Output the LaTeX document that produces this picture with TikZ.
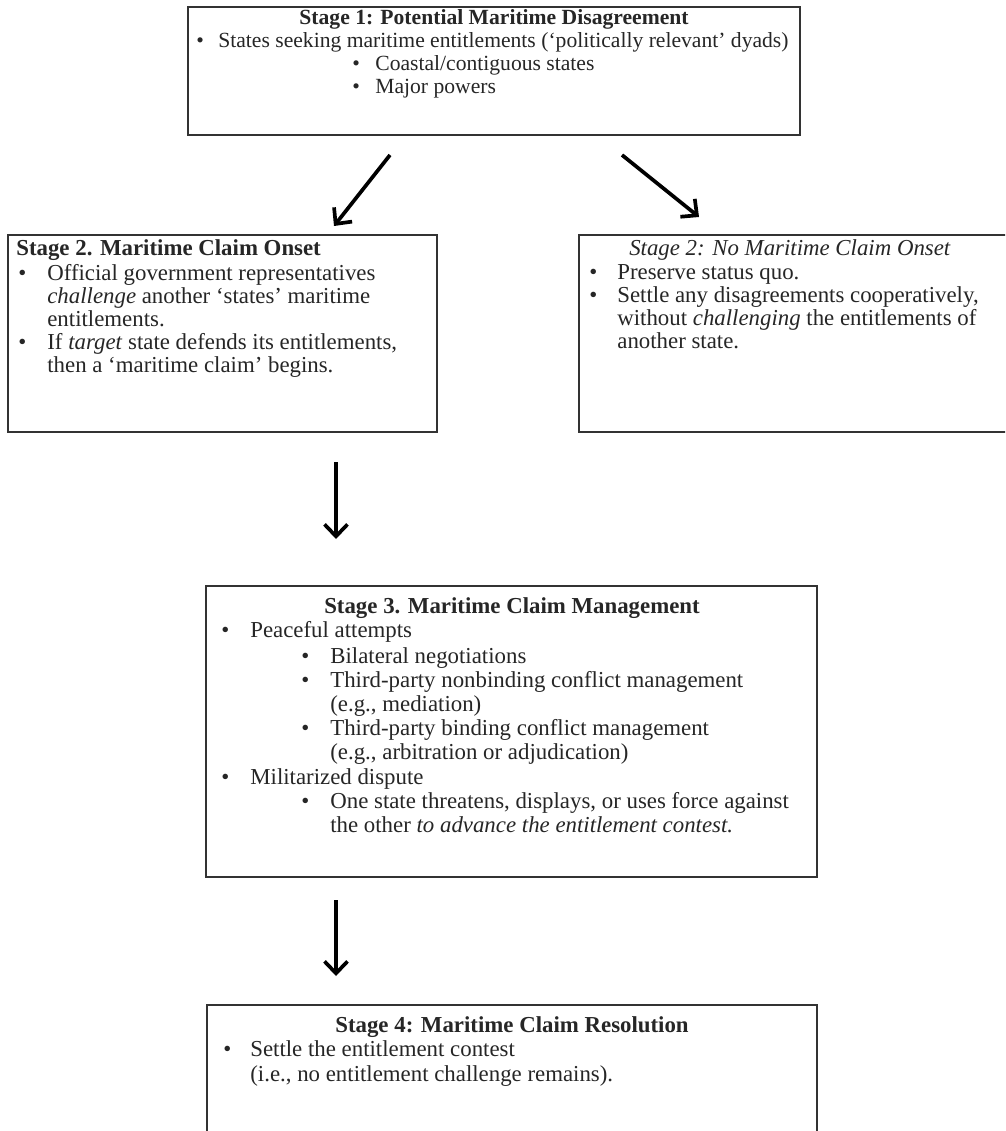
\documentclass[tikz,border=0pt]{standalone}
\usepackage{fontspec}
\setmainfont{Liberation Serif}
\usetikzlibrary{arrows.meta}

\tikzset{
  stagebox/.style={draw=black!80, line width=1.2pt, rectangle, inner sep=0pt},
  txt/.style={anchor=base west, inner sep=0pt, text=black!85, font=\fontsize{13}{15}\selectfont},
  ttl/.style={txt, anchor=base, font=\fontsize{13}{15}\selectfont\bfseries},
  flow/.style={line width=2.1pt, -{Straight Barb[length=2.4mm,width=4.6mm]}}
}

\begin{document}
\begin{tikzpicture}[x=0.02cm,y=-0.02cm]
            \useasboundingbox (0,0) rectangle (1005,1131);
            \clip (0,0) rectangle (1005,1131);
            \fill[white] (0,0) rectangle (1005,1131);

            \node[stagebox, minimum width=12.24cm, minimum height=2.56cm] (stage1) at (494,71) {};
            \node[ttl, font=\fontsize{12.3}{15}\selectfont\bfseries] (stage1t) at (494,25) {Stage 1: Potential Maritime Disagreement};
            \node[txt, font=\fontsize{12.3}{15}\selectfont] (b11) at (196,48) {\textbullet};
            \node[txt, font=\fontsize{12.3}{15}\selectfont] (l11) at (218,48) {States seeking maritime entitlements (‘politically relevant’ dyads)};
            \node[txt, font=\fontsize{12.3}{15}\selectfont] (b12) at (352,71) {\textbullet};
            \node[txt, font=\fontsize{12.3}{15}\selectfont] (l12) at (375,71) {Coastal/contiguous states};
            \node[txt, font=\fontsize{12.3}{15}\selectfont] (b13) at (352,94) {\textbullet};
            \node[txt, font=\fontsize{12.3}{15}\selectfont] (l13) at (375,94) {Major powers};

            \node[stagebox, minimum width=8.58cm, minimum height=3.94cm] (claim) at (222.5,333.5) {};
            \node[txt, font=\fontsize{13}{15}\selectfont\bfseries] (claimt) at (16,256) {Stage 2. Maritime Claim Onset};
            \node[txt] (b21) at (18,281) {\textbullet};
            \node[txt] (l21) at (47,281) {Official government representatives};
            \node[txt] (l22) at (47,304) {\textit{challenge} another ‘states’ maritime};
            \node[txt] (l23) at (47,327) {entitlements.};
            \node[txt] (b24) at (18,350) {\textbullet};
            \node[txt] (l24) at (47,350) {If \textit{target} state defends its entitlements,};
            \node[txt] (l25) at (47,373) {then a ‘maritime claim’ begins.};

            \node[stagebox, minimum width=8.66cm, minimum height=3.94cm] (noclaim) at (795.5,333.5) {};
            \node[txt, anchor=base] (noclaimt) at (790,256) {\textit{Stage 2: No Maritime Claim Onset}};
            \node[txt] (b31) at (589,280) {\textbullet};
            \node[txt] (l31) at (617,280) {Preserve status quo.};
            \node[txt] (b32) at (589,303) {\textbullet};
            \node[txt] (l32) at (617,303) {Settle any disagreements cooperatively,};
            \node[txt] (l33) at (617,326) {without \textit{challenging} the entitlements of};
            \node[txt] (l34) at (617,349) {another state.};

            \node[stagebox, minimum width=12.22cm, minimum height=5.82cm] (manage) at (511.5,731.5) {};
            \node[ttl] (managet) at (512,613) {Stage 3. Maritime Claim Management};
            \node[txt] (b41) at (221,637) {\textbullet};
            \node[txt] (l41) at (250,637) {Peaceful attempts};
            \node[txt] (b42) at (301,663) {\textbullet};
            \node[txt] (l42) at (330,663) {Bilateral negotiations};
            \node[txt] (b43) at (301,687) {\textbullet};
            \node[txt] (l43) at (330,687) {Third-party nonbinding conflict management};
            \node[txt] (l44) at (330,711) {(e.g., mediation)};
            \node[txt] (b45) at (301,735) {\textbullet};
            \node[txt] (l45) at (330,735) {Third-party binding conflict management};
            \node[txt] (l46) at (330,759) {(e.g., arbitration or adjudication)};
            \node[txt] (b47) at (221,784) {\textbullet};
            \node[txt] (l47) at (250,784) {Militarized dispute};
            \node[txt] (b48) at (301,808) {\textbullet};
            \node[txt] (l48) at (330,808) {One state threatens, displays, or uses force against};
            \node[txt] (l49) at (330,832) {the other \textit{to advance the entitlement contest.}};

            \node[stagebox, minimum width=12.2cm, minimum height=2.9cm] (resolve) at (512,1077.5) {};
            \node[ttl] (resolvet) at (512,1032) {Stage 4: Maritime Claim Resolution};
            \node[txt] (b51) at (223,1056) {\textbullet};
            \node[txt] (l51) at (250,1056) {Settle the entitlement contest};
            \node[txt] (l52) at (250,1081) {(i.e., no entitlement challenge remains).};

            \coordinate (a1) at (390,155);
            \coordinate (a2) at (334,226);
            \coordinate (a3) at (622,155);
            \coordinate (a4) at (699,217);
            \coordinate (a5) at (336,462);
            \coordinate (a6) at (336,539);
            \coordinate (a7) at (336,900);
            \coordinate (a8) at (336,976);
            \draw[flow] (a1) -- (a2);
            \draw[flow] (a3) -- (a4);
            \draw[flow] (a5) -- (a6);
            \draw[flow] (a7) -- (a8);
        \end{tikzpicture}
\end{document}
